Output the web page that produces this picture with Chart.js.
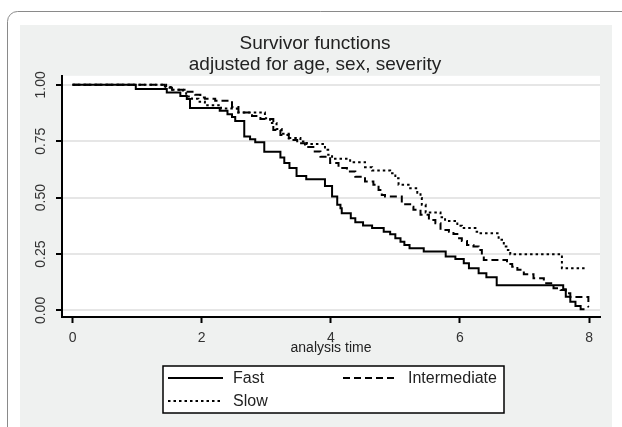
<!DOCTYPE html>
<html>
<head>
<meta charset="utf-8">
<script src="https://cdn.jsdelivr.net/npm/chart.js@4.4.0/dist/chart.umd.min.js"></script>
<style>
  html, body { margin: 0; padding: 0; background: #fff; }
</style>
</head>
<body>
<canvas id="kmChart" width="622" height="427"></canvas>
<script>
// survivor estimates (time, S(t)); step drops at each time
const fastT = [0, 0.98, 1.46, 1.67, 1.77, 1.82, 2.28, 2.40, 2.47, 2.52, 2.66, 2.75, 2.83, 2.97, 3.22, 3.28, 3.36, 3.47, 3.62, 3.91, 4.02, 4.10, 4.15, 4.17, 4.31, 4.38, 4.50, 4.64, 4.82, 4.92, 5.00, 5.08, 5.14, 5.22, 5.44, 5.78, 5.93, 6.06, 6.14, 6.29, 6.41, 6.57, 7.60, 7.64, 7.71, 7.79, 7.87, 7.93];
const fastS = [1, 0.981, 0.966, 0.951, 0.937, 0.897, 0.885, 0.870, 0.857, 0.840, 0.771, 0.759, 0.746, 0.703, 0.678, 0.653, 0.631, 0.596, 0.582, 0.552, 0.505, 0.468, 0.453, 0.431, 0.409, 0.391, 0.376, 0.365, 0.349, 0.338, 0.320, 0.305, 0.290, 0.276, 0.261, 0.239, 0.228, 0.209, 0.187, 0.165, 0.147, 0.112, 0.094, 0.061, 0.039, 0.020, 0.005, 0.005];

const midT = [0, 1.43, 1.54, 1.71, 1.90, 1.98, 2.05, 2.21, 2.47, 2.57, 2.78, 2.91, 3.11, 3.22, 3.35, 3.48, 3.60, 3.73, 3.84, 3.99, 4.12, 4.25, 4.38, 4.53, 4.66, 4.74, 4.79, 4.84, 5.10, 5.26, 5.28, 5.39, 5.52, 5.62, 5.70, 5.83, 5.90, 5.96, 6.03, 6.11, 6.21, 6.29, 6.34, 6.37, 6.73, 6.81, 6.89, 6.99, 7.14, 7.30, 7.45, 7.56, 7.64, 7.71, 7.99, 8.0];
const midS = [1, 0.987, 0.978, 0.969, 0.956, 0.944, 0.938, 0.929, 0.902, 0.877, 0.862, 0.849, 0.800, 0.778, 0.756, 0.741, 0.724, 0.704, 0.681, 0.653, 0.631, 0.616, 0.593, 0.571, 0.557, 0.534, 0.512, 0.505, 0.471, 0.460, 0.446, 0.424, 0.401, 0.387, 0.357, 0.349, 0.339, 0.320, 0.308, 0.290, 0.283, 0.268, 0.239, 0.224, 0.206, 0.194, 0.180, 0.161, 0.143, 0.121, 0.098, 0.091, 0.076, 0.060, 0.018, 0.018];

const slowT = [0, 1.45, 1.55, 1.76, 1.85, 1.95, 2.05, 2.30, 2.55, 2.98, 3.06, 3.16, 3.24, 3.35, 3.53, 3.63, 3.91, 3.96, 4.02, 4.30, 4.53, 4.64, 4.92, 5.00, 5.05, 5.23, 5.34, 5.39, 5.41, 5.47, 5.70, 5.77, 5.96, 6.03, 6.24, 6.32, 6.60, 6.68, 6.72, 6.78, 7.58, 7.95];
const slowS = [1, 0.99, 0.978, 0.948, 0.938, 0.925, 0.91, 0.895, 0.877, 0.852, 0.831, 0.804, 0.783, 0.764, 0.749, 0.738, 0.712, 0.690, 0.672, 0.657, 0.635, 0.620, 0.608, 0.586, 0.557, 0.542, 0.522, 0.498, 0.468, 0.434, 0.413, 0.397, 0.375, 0.365, 0.349, 0.342, 0.313, 0.283, 0.268, 0.249, 0.187, 0.187];

const seriesNames = ['Fast', 'Intermediate', 'Slow'];
const xTicks = [0, 2, 4, 6, 8];
const yTicks = [0, 0.25, 0.5, 0.75, 1];
const titleLines = ['Survivor functions', 'adjusted for age, sex, severity'];
const xTitle = 'analysis time';

const FONT = 'Liberation Sans, Arial, sans-serif';

const toPoints = (t, s) => t.map((v, i) => ({ x: v, y: s[i] }));

// gray graph region, frame and white plot area
const backdrop = {
  id: 'backdrop',
  beforeDraw(chart) {
    const { ctx, chartArea: a } = chart;
    ctx.save();
    ctx.fillStyle = '#fff';
    ctx.fillRect(0, 0, chart.width, chart.height);
    ctx.strokeStyle = '#8a8a8a';
    ctx.lineWidth = 1;
    ctx.beginPath();
    ctx.roundRect(7.5, 11.5, 700, 500, 10);
    ctx.stroke();
    ctx.fillStyle = '#eff1f0';
    ctx.fillRect(20, 25, 592, 402);
    ctx.fillStyle = '#fff';
    ctx.fillRect(a.left, a.top, a.right - a.left, a.bottom - a.top);
    ctx.restore();
  }
};

// rotated y labels (Stata style) and the boxed two-column legend
const extras = {
  id: 'extras',
  afterDraw(chart) {
    const { ctx } = chart;
    const ys = chart.scales.y;
    ctx.save();
    ctx.fillStyle = '#333';
    ctx.font = '14px ' + FONT;
    ctx.textAlign = 'center';
    ctx.textBaseline = 'middle';
    yTicks.forEach(v => {
      ctx.save();
      ctx.translate(41, ys.getPixelForValue(v));
      ctx.rotate(-Math.PI / 2);
      ctx.fillText(v.toFixed(2), 0, 0);
      ctx.restore();
    });

    // legend
    const bx = 163, by = 366, bw = 341, bh = 47;
    ctx.fillStyle = '#fff';
    ctx.fillRect(bx, by, bw, bh);
    ctx.strokeStyle = '#000';
    ctx.lineWidth = 1.5;
    ctx.strokeRect(bx, by, bw, bh);
    const slots = [[168, 378], [343, 378], [168, 401]];
    ctx.font = '16px ' + FONT;
    ctx.textAlign = 'left';
    chart.data.datasets.forEach((ds, i) => {
      const [lx, ly] = slots[i];
      ctx.strokeStyle = '#000';
      ctx.lineWidth = ds.borderWidth;
      ctx.setLineDash(ds.borderDash || []);
      ctx.beginPath();
      ctx.moveTo(lx, ly);
      ctx.lineTo(lx + 55, ly);
      ctx.stroke();
      ctx.setLineDash([]);
      ctx.fillStyle = '#222';
      ctx.fillText(ds.label, lx + 65, ly + 1);
    });
    ctx.restore();
  }
};

new Chart(document.getElementById('kmChart'), {
  type: 'line',
  data: {
    datasets: [
      { label: seriesNames[0], data: toPoints(fastT, fastS), borderColor: '#000', borderWidth: 2, stepped: 'before', pointRadius: 0 },
      { label: seriesNames[1], data: toPoints(midT, midS), borderColor: '#000', borderWidth: 2, borderDash: [7, 4], stepped: 'before', pointRadius: 0 },
      { label: seriesNames[2], data: toPoints(slowT, slowS), borderColor: '#000', borderWidth: 2, borderDash: [2.5, 3], stepped: 'before', pointRadius: 0 }
    ]
  },
  options: {
    responsive: false,
    animation: false,
    layout: { padding: { left: 30, right: 22, top: 27, bottom: 60 } },
    plugins: {
      legend: { display: false },
      tooltip: { enabled: false },
      title: {
        display: true,
        text: titleLines,
        color: '#222',
        font: { family: FONT, size: 19, weight: 'normal', lineHeight: 1.1 },
        padding: { top: 6, bottom: 1 }
      }
    },
    scales: {
      x: {
        type: 'linear',
        min: -0.163,
        max: 8.17,
        afterBuildTicks: s => { s.ticks = xTicks.map(v => ({ value: v })); },
        afterFit: s => { s.height = 50; },
        grid: { drawOnChartArea: false, tickLength: 6, tickWidth: 2, tickColor: '#000' },
        border: { display: true, color: '#000', width: 2 },
        ticks: { color: '#333', font: { family: FONT, size: 14 }, padding: 7, maxRotation: 0 },
        title: { display: true, text: xTitle, color: '#222', font: { family: FONT, size: 14 }, padding: { top: 0, bottom: 10 } }
      },
      y: {
        type: 'linear',
        min: -0.029,
        max: 1.04,
        afterBuildTicks: s => { s.ticks = yTicks.map(v => ({ value: v })); },
        afterFit: s => { s.width = 32; },
        grid: { color: '#e6e6e6', lineWidth: 2, tickLength: 6, tickWidth: 2, tickColor: '#000' },
        border: { display: true, color: '#000', width: 2 },
        ticks: { display: false }
      }
    }
  },
  plugins: [backdrop, extras]
});
</script>
</body>
</html>
